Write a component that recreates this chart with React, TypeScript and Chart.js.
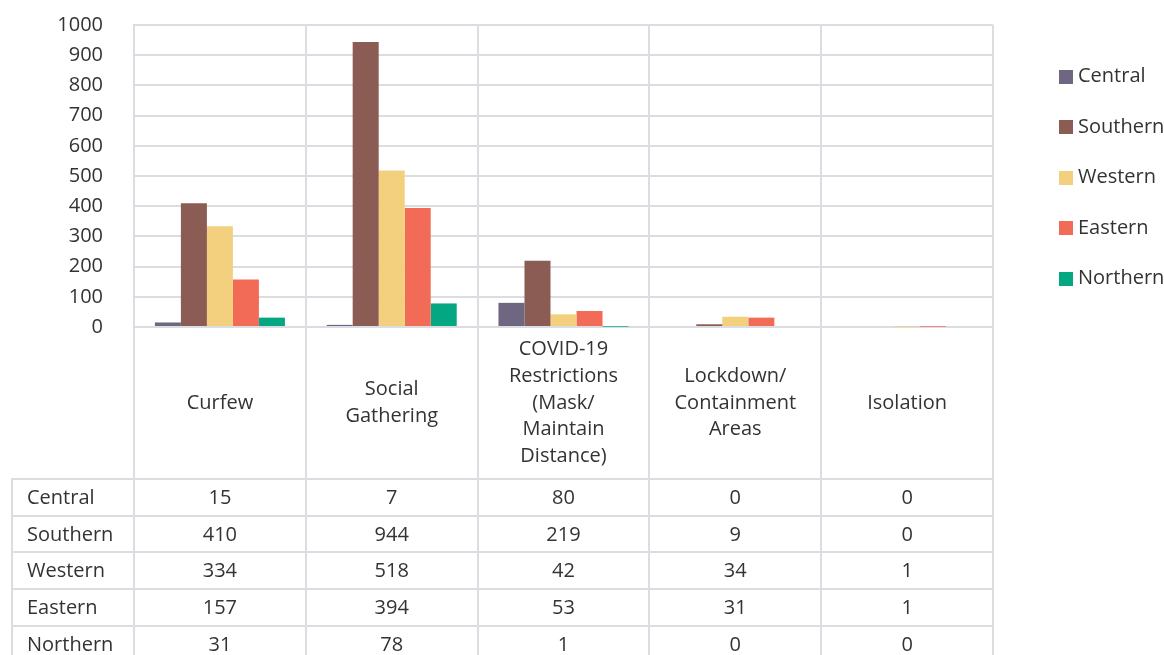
import React, { useEffect, useRef } from "react";
import { Chart, registerables } from "chart.js";

Chart.register(...registerables);

// ---- data ----
const categoryLines: string[][] = [
  ["Curfew"],
  ["Social", "Gathering"],
  ["COVID-19", "Restrictions", "(Mask/", "Maintain", "Distance)"],
  ["Lockdown/", "Containment", "Areas"],
  ["Isolation"],
];
const seriesNames = ["Central", "Southern", "Western", "Eastern", "Northern"];
const centralValues = [15, 7, 80, 0, 0];
const southernValues = [410, 944, 219, 9, 0];
const westernValues = [334, 518, 42, 34, 1];
const easternValues = [157, 394, 53, 31, 1];
const northernValues = [31, 78, 1, 0, 0];
const seriesColors = ["#6f6681", "#8a5c53", "#f3d07d", "#f16b57", "#03a882"];
const yMax = 1000;
const yStep = 100;

const seriesValues = [centralValues, southernValues, westernValues, easternValues, northernValues];

// ---- style ----
const W = 1164;
const H = 655;
const FONT_FAMILY = '"Open Sans", "Noto Sans", sans-serif';
const FONT_SIZE = 20;
const TEXT = "#333333";
const GRID = "#dcdde2";
const TABLE_LEFT = 12;
const HEADER_H = 152;
const ROW_H = 36.7;
const LABEL_LH = 26.7;

const tablePlugin = {
  id: "dataTable",
  afterDraw(chart: any) {
    const ctx: CanvasRenderingContext2D = chart.ctx;
    const area = chart.chartArea;
    const xs = chart.scales.x;
    const n = categoryLines.length;
    const catW = (area.right - area.left) / n;
    const centers = categoryLines.map((_, i) => xs.getPixelForValue(i));
    const bounds = [Math.round(centers[0] - catW / 2), ...centers.map((c) => Math.round(c + catW / 2))];
    const top = area.bottom;
    const headerBottom = Math.round(top + HEADER_H);

    ctx.save();
    ctx.strokeStyle = GRID;
    ctx.lineWidth = 2;
    const line = (x1: number, y1: number, x2: number, y2: number) => {
      ctx.beginPath();
      ctx.moveTo(x1, y1);
      ctx.lineTo(x2, y2);
      ctx.stroke();
    };
    bounds.forEach((bx) => line(bx, top, bx, H));
    line(TABLE_LEFT, headerBottom - 1, TABLE_LEFT, H);
    for (let r = 0; r <= seriesNames.length; r++) {
      const y = Math.round(headerBottom + r * ROW_H);
      line(TABLE_LEFT - 1, y, bounds[bounds.length - 1] + 1, y);
    }

    ctx.fillStyle = TEXT;
    ctx.font = `${FONT_SIZE}px ${FONT_FAMILY}`;
    ctx.textBaseline = "middle";
    ctx.textAlign = "center";
    const headerMid = (top + headerBottom) / 2;
    categoryLines.forEach((lines, i) => {
      const y0 = headerMid - ((lines.length - 1) / 2) * LABEL_LH;
      lines.forEach((t, k) => ctx.fillText(t, centers[i], y0 + k * LABEL_LH));
    });

    seriesNames.forEach((name, r) => {
      const yc = headerBottom + (r + 0.5) * ROW_H + 1;
      ctx.textAlign = "left";
      ctx.fillText(name, TABLE_LEFT + 15, yc);
      ctx.textAlign = "center";
      seriesValues[r].forEach((v, i) => ctx.fillText(String(v), centers[i], yc));
    });

    // legend
    const ds = chart.data.datasets;
    ds.forEach((d: any, i: number) => {
      const yc = 76.5 + i * 50.5;
      ctx.fillStyle = d.backgroundColor;
      ctx.fillRect(1059, Math.round(yc - 7), 14, 14);
      ctx.fillStyle = TEXT;
      ctx.textAlign = "left";
      ctx.fillText(d.label, 1078, yc);
    });
    ctx.restore();
  },
};

export default function App() {
  const ref = useRef<HTMLCanvasElement | null>(null);
  useEffect(() => {
    if (!ref.current) return;
    const chart = new Chart(ref.current, {
      type: "bar",
      data: {
        labels: categoryLines.map((l) => l.join(" ")),
        datasets: seriesNames.map((name, i) => ({
          label: name,
          data: seriesValues[i],
          backgroundColor: seriesColors[i],
          borderWidth: 0,
          categoryPercentage: 0.757,
          barPercentage: 1.0,
        })),
      },
      options: {
        responsive: false,
        animation: false,
        devicePixelRatio: 1,
        layout: { padding: { top: 25, right: W - 993, bottom: H - 327, left: 0 } },
        plugins: { legend: { display: false }, tooltip: { enabled: false } },
        scales: {
          x: {
            offset: true,
            grid: { display: true, offset: true, color: GRID, lineWidth: 2, drawTicks: false },
            border: { display: true, color: GRID, width: 2 },
            ticks: { display: false },
            afterFit: (s: any) => {
              s.height = 0;
            },
          },
          y: {
            min: 0,
            max: yMax,
            ticks: {
              stepSize: yStep,
              padding: 0,
              color: TEXT,
              font: { family: FONT_FAMILY, size: FONT_SIZE },
              callback: (v: any) => String(v),
            },
            grid: {
              color: GRID,
              lineWidth: 2,
              drawTicks: true,
              tickLength: 31,
              tickColor: "rgba(0,0,0,0)",
            },
            border: { display: true, color: GRID, width: 2 },
            afterFit: (s: any) => {
              s.width = 134;
            },
          },
        },
      },
      plugins: [tablePlugin],
    });
    return () => chart.destroy();
  }, []);
  return (
    <div style={{ position: "fixed", left: 0, top: 0, width: W, height: H, background: "#fff" }}>
      <canvas ref={ref} width={W} height={H} style={{ display: "block", width: W, height: H }} />
    </div>
  );
}
